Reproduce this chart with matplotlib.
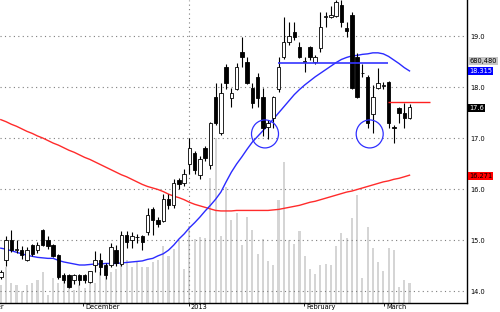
import matplotlib
matplotlib.use("Agg")
import matplotlib.pyplot as plt
import matplotlib.transforms as mtransforms
from matplotlib.patches import Ellipse

# ---------------- data ----------------
opens = [14.28, 14.60, 15.00, 14.80, 14.80, 14.61, 14.90, 14.80, 15.20, 15.00,
         14.90, 14.70, 14.31, 14.31, 14.22, 14.31, 14.31, 14.18, 14.51, 14.61,
         14.51, 14.51, 14.80, 14.52, 15.10, 15.00, 15.05, 15.08, 15.15, 15.60,
         15.40, 15.38, 15.80, 15.69, 16.18, 16.12, 16.49, 16.70, 16.27, 16.80,
         16.47, 17.80, 17.10, 18.40, 17.78, 17.97, 18.69, 18.50, 17.99, 18.20,
         17.80, 17.21, 17.39, 17.97, 18.59, 18.89, 19.08, 18.79, 18.50, 18.79,
         18.50, 18.76, 19.37, 19.38, 19.40, 19.61, 19.15, 19.41, 18.59, 18.28,
         18.19, 17.48, 17.99, 18.01, 18.10, 17.22, 17.58, 17.50, 17.39]
closes = [14.38, 15.00, 14.80, 14.83, 14.71, 14.80, 14.72, 14.90, 14.90, 14.88,
          14.69, 14.28, 14.22, 14.08, 14.31, 14.22, 14.22, 14.39, 14.60, 14.48,
          14.31, 14.87, 14.54, 15.10, 14.97, 15.08, 15.06, 14.97, 15.50, 15.40,
          15.32, 15.80, 15.69, 16.12, 16.10, 16.30, 16.80, 16.37, 16.59, 16.60,
          17.29, 17.29, 17.89, 18.08, 17.89, 18.40, 18.59, 18.08, 17.68, 17.78,
          17.19, 17.30, 17.80, 18.39, 18.89, 19.00, 18.99, 18.59, 18.51, 18.59,
          18.59, 19.18, 19.39, 19.42, 19.66, 19.28, 19.10, 17.99, 17.81, 18.27,
          17.29, 17.80, 18.07, 18.04, 17.29, 17.20, 17.50, 17.39, 17.60]
highs = [14.42, 15.08, 15.20, 15.00, 14.88, 14.86, 14.92, 14.97, 15.22, 15.08,
         14.92, 14.73, 14.35, 14.33, 14.33, 14.34, 14.34, 14.40, 14.78, 14.75,
         14.55, 14.95, 14.90, 15.18, 15.18, 15.15, 15.12, 15.10, 15.62, 15.65,
         15.45, 15.90, 15.90, 16.20, 16.22, 16.40, 17.00, 16.75, 16.65, 16.85,
         17.32, 18.08, 18.08, 18.45, 17.99, 18.47, 18.99, 18.59, 18.07, 18.28,
         17.98, 17.35, 17.82, 18.59, 19.38, 19.28, 19.28, 18.89, 18.59, 18.80,
         18.62, 19.48, 19.48, 19.58, 19.70, 19.70, 19.28, 19.48, 18.66, 18.46,
         18.24, 18.04, 18.37, 18.10, 18.12, 17.25, 17.60, 17.68, 17.67]
lows = [14.24, 14.50, 14.76, 14.74, 14.62, 14.58, 14.68, 14.74, 14.88, 14.82,
        14.66, 14.23, 14.16, 14.05, 14.14, 14.12, 14.16, 14.16, 14.38, 14.32,
        14.24, 14.48, 14.50, 14.50, 14.85, 14.85, 14.95, 14.80, 15.10, 15.10,
        15.25, 15.35, 15.60, 15.62, 16.00, 16.05, 16.30, 16.30, 16.20, 16.55,
        16.40, 17.25, 17.05, 17.97, 17.60, 17.95, 18.40, 18.05, 17.58, 17.61,
        17.03, 16.99, 17.20, 17.91, 18.55, 18.82, 18.92, 18.57, 18.30, 18.52,
        18.45, 18.69, 19.18, 19.35, 19.38, 19.18, 18.99, 17.97, 17.78, 18.20,
        17.19, 17.10, 17.97, 17.97, 17.19, 16.90, 17.30, 17.20, 17.38]
volumes = [620000, 1240000, 690000, 620000, 410000, 620000, 690000, 790000, 1040000, 280000,
           860000, 690000, 790000, 550000, 450000, 620000, 520000, 720000, 690000, 1040000,
           970000, 1070000, 1140000, 1310000, 1480000, 1240000, 1380000, 1210000, 1240000, 1380000,
           1480000, 1930000, 1590000, 1830000, 2100000, 1140000, 2620000, 2170000, 2240000, 2210000,
           4240000, 5620000, 2280000, 3930000, 2830000, 3070000, 1970000, 2930000, 2480000, 1660000,
           2170000, 1420000, 1280000, 3490000, 4800000, 2140000, 2000000, 2450000, 1590000, 1170000,
           1000000, 1280000, 1310000, 1280000, 1930000, 2380000, 2210000, 2900000, 3660000, 860000,
           2590000, 1860000, 1380000, 1100000, 1860000, 1800000, 550000, 790000, 680480]
ma_short = [14.84, 14.82, 14.79, 14.76, 14.73, 14.70, 14.68, 14.66, 14.65, 14.64,
            14.64, 14.60, 14.57, 14.55, 14.53, 14.51, 14.51, 14.52, 14.53, 14.53,
            14.54, 14.54, 14.54, 14.55, 14.56, 14.57, 14.58, 14.59, 14.62, 14.64,
            14.69, 14.73, 14.80, 14.90, 15.02, 15.12, 15.24, 15.34, 15.45, 15.57,
            15.68, 15.80, 15.94, 16.14, 16.33, 16.49, 16.63, 16.78, 16.92, 17.03,
            17.14, 17.25, 17.37, 17.49, 17.61, 17.73, 17.85, 17.95, 18.04, 18.12,
            18.20, 18.27, 18.34, 18.41, 18.48, 18.54, 18.58, 18.61, 18.62, 18.64,
            18.65, 18.67, 18.67, 18.65, 18.60, 18.53, 18.46, 18.38, 18.315]
ma_long = [17.36, 17.32, 17.27, 17.23, 17.18, 17.13, 17.09, 17.04, 17.00, 16.95,
           16.90, 16.86, 16.81, 16.76, 16.72, 16.67, 16.62, 16.58, 16.53, 16.48,
           16.43, 16.38, 16.33, 16.28, 16.24, 16.19, 16.14, 16.09, 16.05, 16.02,
           15.99, 15.95, 15.90, 15.86, 15.83, 15.79, 15.74, 15.70, 15.67, 15.64,
           15.61, 15.58, 15.57, 15.57, 15.57, 15.58, 15.58, 15.58, 15.58, 15.58,
           15.58, 15.58, 15.59, 15.60, 15.62, 15.64, 15.66, 15.68, 15.71, 15.74,
           15.76, 15.79, 15.82, 15.85, 15.88, 15.91, 15.94, 15.96, 15.99, 16.02,
           16.05, 16.08, 16.11, 16.14, 16.16, 16.19, 16.21, 16.24, 16.271]

month_labels = ["December", "2013", "February", "March"]
month_pos = [15.74, 35.92, 57.92, 73.19]
prev_month_label = "November"
prev_month_pos = -6.3
price_ticks = [14.0, 15.0, 16.0, 17.0, 18.0, 19.0]

# annotations drawn on the chart (candle index / price)
support_line = (52.96, 73.95, 18.48)   # x0, x1, price
resist_line = (73.95, 81.9, 17.70)
circle_centers = [(50.42, 17.08), (70.4, 17.08)]

# ---------------- figure ----------------
W, H = 500, 312
fig = plt.figure(figsize=(W / 100, H / 100), dpi=100)
fig.patch.set_facecolor("white")
rect = [0, 9 / H, 467 / W, 303 / H]
axv = fig.add_axes(rect, zorder=0)
ax = fig.add_axes(rect, zorder=1)
ax.patch.set_visible(False)

XL = (-0.153, 88.97)
YL = (13.765, 19.706)
axv.set_xlim(*XL)
ax.set_xlim(*XL)
ax.set_ylim(*YL)
axv.set_ylim(0, volumes[-1] * 303 / 20)
axv.axis("off")

idx = list(range(len(closes)))

# volume bars
axv.bar(idx, volumes, width=0.40, color="#d5d5d5", linewidth=0)

# grid
for p in price_ticks:
    ax.axhline(p, color="#7f7f7f", lw=0.8, ls=(0, (1, 3)), zorder=0.5)
ax.axvline(month_pos[1], color="#7f7f7f", lw=0.8, ls=(0, (1, 3)), zorder=0.5)

# moving averages
ax.plot(idx, ma_long, color="#ff2b2b", lw=1.0, zorder=2)
ax.plot(idx, ma_short, color="#2b2bff", lw=1.0, zorder=2)

# candles
for i in idx:
    o, h, l, c = opens[i], highs[i], lows[i], closes[i]
    ax.vlines(i, l, h, color="black", lw=0.8, zorder=3)
    body = max(abs(c - o), 0.012)
    up = c >= o
    ax.bar(i, body, bottom=min(o, c), width=0.66,
           color="white" if up else "black", edgecolor="black",
           linewidth=0.6, zorder=4)

# annotations
ax.hlines(support_line[2], support_line[0], support_line[1], color="#3535ff", lw=1.2, zorder=5)
ax.hlines(resist_line[2], resist_line[0], resist_line[1], color="#ff2020", lw=1.0, zorder=5)
for cx, cy in circle_centers:
    ax.add_patch(Ellipse((cx, cy), width=27 / 5.24, height=28 / 51, fill=False,
                         ec="#3030ff", lw=0.9, zorder=6))

# axes styling
for s in ("top", "left"):
    ax.spines[s].set_visible(False)
for s in ("right", "bottom"):
    ax.spines[s].set_color("black")
    ax.spines[s].set_linewidth(1.0)
ax.yaxis.tick_right()
ax.set_yticks(price_ticks)
ax.set_yticklabels([f"{p:.1f}" for p in price_ticks])
ax.tick_params(axis="y", length=0, pad=2.5, labelsize=4.8, labelcolor="black")

ax.set_xticks(month_pos)
ax.set_xticklabels([])
ax.tick_params(axis="x", length=2.2, width=0.6, direction="out", color="black")

trans = mtransforms.blended_transform_factory(ax.transData, ax.transAxes)
trans_off = mtransforms.offset_copy(trans, fig=fig, x=1.2, y=-0.6, units="points")
for lab, pos in zip(month_labels, month_pos):
    ax.text(pos, 0, lab, transform=trans_off, ha="left", va="top",
            fontsize=4.8, color="black", clip_on=False)
ax.text(prev_month_pos, 0, prev_month_label, transform=trans_off, ha="left",
        va="top", fontsize=4.8, color="black", clip_on=False)

# value boxes at right
def box(ypix, text, fc, tc):
    fig.text(469 / W, 1 - ypix / H, text, fontsize=4.8, ha="left", va="center",
             color=tc, bbox=dict(boxstyle="square,pad=0.18", fc=fc, ec="none"))

box(61, f"{volumes[-1]:,}", "#c6c6c6", "black")
box(71, f"{ma_short[-1]:.3f}", "#0000ff", "white")
box(108, f"{closes[-1]:g}", "black", "white")
box(176, f"{ma_long[-1]:.3f}", "#ff0000", "black")

fig.savefig("out.png", dpi=100)
